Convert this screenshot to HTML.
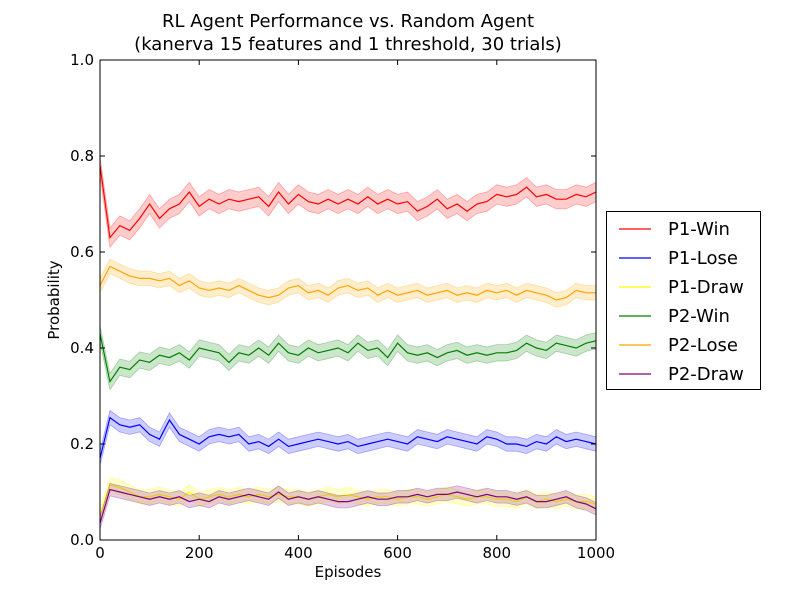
<!DOCTYPE html>
<html><head><meta charset="utf-8"><style>body{margin:0;background:#fff}svg{display:block;font-family:"DejaVu Sans","Liberation Sans",sans-serif}</style></head>
<body>
<svg id="c" width="800" height="600" xmlns="http://www.w3.org/2000/svg">
<rect width="800" height="600" fill="#fff"/>
<text x="348" y="27" font-size="18" text-anchor="middle">RL Agent Performance vs. Random Agent</text>
<text x="348" y="50" font-size="18" text-anchor="middle">(kanerva 15 features and 1 threshold, 30 trials)</text>
<text x="348" y="577" font-size="15" text-anchor="middle">Episodes</text>
<text x="59" y="300" font-size="15" text-anchor="middle" transform="rotate(-90 59 300)">Probability</text>
<g id="plot"></g>
<g id="axes"></g>
<g id="legend"></g>
</svg>
<script>
const episodes=[];for(let i=0;i<=50;i++)episodes.push(i*20);
const xTicks=[0,200,400,600,800,1000];
const yTicks=[0.0,0.2,0.4,0.6,0.8,1.0];
const seriesNames=["P1-Win","P1-Lose","P1-Draw","P2-Win","P2-Lose","P2-Draw"];
const seriesColors=["#ff0000","#0000ff","#ffff00","#008000","#ffa500","#800080"];
const p1Win=[0.78,0.63,0.655,0.645,0.67,0.70,0.67,0.69,0.70,0.725,0.695,0.71,0.70,0.71,0.705,0.71,0.715,0.695,0.725,0.70,0.72,0.705,0.70,0.71,0.70,0.71,0.70,0.715,0.70,0.71,0.70,0.705,0.685,0.695,0.71,0.69,0.70,0.685,0.70,0.705,0.72,0.715,0.72,0.735,0.715,0.72,0.71,0.71,0.72,0.715,0.725];
const p1Lose=[0.17,0.255,0.24,0.235,0.24,0.22,0.21,0.25,0.22,0.21,0.20,0.215,0.22,0.215,0.22,0.20,0.205,0.195,0.21,0.195,0.20,0.205,0.21,0.205,0.20,0.205,0.195,0.20,0.205,0.21,0.205,0.20,0.215,0.21,0.205,0.215,0.21,0.205,0.20,0.215,0.21,0.20,0.20,0.195,0.205,0.20,0.215,0.205,0.21,0.205,0.20];
const p1Draw=[0.05,0.115,0.11,0.10,0.09,0.09,0.095,0.09,0.085,0.10,0.085,0.09,0.095,0.09,0.095,0.09,0.095,0.09,0.095,0.09,0.09,0.085,0.09,0.095,0.09,0.095,0.09,0.085,0.09,0.09,0.085,0.09,0.09,0.085,0.09,0.095,0.09,0.085,0.09,0.09,0.085,0.085,0.08,0.09,0.08,0.085,0.08,0.085,0.08,0.08,0.075];
const p2Win=[0.43,0.33,0.36,0.355,0.375,0.37,0.385,0.38,0.39,0.375,0.40,0.395,0.39,0.37,0.39,0.385,0.40,0.385,0.41,0.39,0.385,0.40,0.39,0.395,0.40,0.39,0.41,0.395,0.40,0.38,0.41,0.39,0.385,0.39,0.38,0.39,0.395,0.385,0.39,0.385,0.39,0.39,0.395,0.41,0.40,0.395,0.41,0.405,0.40,0.41,0.415];
const p2Lose=[0.53,0.57,0.56,0.55,0.545,0.545,0.54,0.545,0.53,0.54,0.525,0.52,0.525,0.52,0.53,0.52,0.51,0.505,0.51,0.525,0.53,0.515,0.52,0.51,0.525,0.53,0.52,0.525,0.51,0.52,0.51,0.515,0.52,0.51,0.515,0.52,0.51,0.515,0.51,0.52,0.515,0.52,0.51,0.52,0.515,0.51,0.50,0.505,0.52,0.515,0.515];
const p2Draw=[0.035,0.105,0.10,0.095,0.09,0.085,0.09,0.085,0.09,0.08,0.085,0.08,0.09,0.085,0.09,0.095,0.09,0.085,0.10,0.085,0.09,0.085,0.09,0.085,0.08,0.08,0.085,0.09,0.085,0.085,0.09,0.09,0.095,0.09,0.095,0.095,0.10,0.095,0.09,0.095,0.09,0.09,0.085,0.09,0.08,0.08,0.085,0.09,0.08,0.075,0.065];
const bandWidths=[0.02,0.015,0.015,0.017,0.015,0.013];
const allSeries=[p1Win,p1Lose,p1Draw,p2Win,p2Lose,p2Draw];
const NS="http://www.w3.org/2000/svg";
const X0=100,X1=596,Y0=540,Y1=60;
const xs=v=>X0+(v/1000)*(X1-X0);
const ys=v=>Y0-v*(Y0-Y1);
function mk(t,a,p){const e=document.createElementNS(NS,t);for(const k in a)e.setAttribute(k,a[k]);p.appendChild(e);return e;}
const plot=document.getElementById('plot');
allSeries.forEach((s,i)=>{
  const w=bandWidths[i];
  let d="M"+episodes.map((e,j)=>xs(e)+","+ys(s[j]+w)).join("L");
  d+="L"+episodes.slice().reverse().map((e,j)=>{const k=episodes.length-1-j;return xs(e)+","+ys(s[k]-w);}).join("L")+"Z";
  const b=mk('path',{d:d,fill:seriesColors[i],'fill-opacity':0.2,stroke:seriesColors[i],'stroke-opacity':0.3,'stroke-width':0.8},plot);
  
  
  const l=mk('polyline',{points:episodes.map((e,j)=>xs(e)+","+ys(s[j])).join(" "),fill:'none',stroke:seriesColors[i],'stroke-width':1.2},plot);
  
  
});
const ax=document.getElementById('axes');
const fr=mk('rect',{x:X0,y:Y1,width:X1-X0,height:Y0-Y1,fill:'none',stroke:'#000','stroke-width':1},ax);


xTicks.forEach(t=>{
  mk('line',{x1:xs(t),x2:xs(t),y1:Y0,y2:Y0-5,stroke:'#000'},ax);
  mk('line',{x1:xs(t),x2:xs(t),y1:Y1,y2:Y1+5,stroke:'#000'},ax);
  const tx=mk('text',{x:xs(t),y:Y0+18,'font-size':15,'text-anchor':'middle'},ax);tx.textContent=t;
  
  
});
yTicks.forEach(t=>{
  mk('line',{x1:X0,x2:X0+5,y1:ys(t),y2:ys(t),stroke:'#000'},ax);
  mk('line',{x1:X1,x2:X1-5,y1:ys(t),y2:ys(t),stroke:'#000'},ax);
  const tx=mk('text',{x:X0-6,y:ys(t)+5,'font-size':15,'text-anchor':'end'},ax);tx.textContent=t.toFixed(1);
  
  
});
const lg=document.getElementById('legend');


mk('rect',{x:606.5,y:211.5,width:154,height:178,fill:'#fff',stroke:'#000'},lg);
seriesNames.forEach((n,i)=>{
  const y=229+i*29;
  const g=mk('g',{},lg);
  
  
  mk('line',{x1:619,x2:651,y1:y,y2:y,stroke:seriesColors[i],'stroke-width':1.2},g);
  const t=mk('text',{x:668,y:y+6,'font-size':18},g);t.textContent=n;
});
</script>
</body></html>
